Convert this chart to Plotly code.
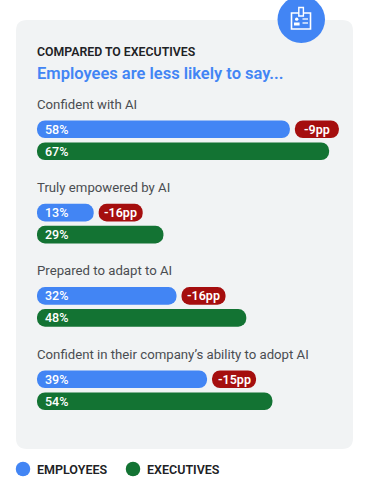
import plotly.graph_objects as go

categories = ["Confident with AI", "Truly empowered by AI", "Prepared to adapt to AI",
              "Confident in their company’s ability to adopt AI"]
employees = [58, 13, 32, 39]
executives = [67, 29, 48, 54]
gaps = ["-9pp", "-16pp", "-16pp", "-15pp"]
legend_names = ["EMPLOYEES", "EXECUTIVES"]
eyebrow = "COMPARED TO EXECUTIVES"
headline = "Employees are less likely to say..."

BLUE, GREEN, RED = "#4285F4", "#137333", "#A50E0E"
PANEL = "#F1F3F4"
W, H = 370, 493
X0, PX = 37, 4.36
FONT = "Roboto, Arial, sans-serif"
FIRST, STEP = 129.3, 83.3
THICK = 17.6
ys_e = [FIRST + i * STEP for i in range(4)]
ys_x = [y + 22 for y in ys_e]
ys_l = [y - 25 for y in ys_e]
pill_w = 44 / PX
pill_gap = 5 / PX

px = lambda x: x / W
py = lambda y: 1 - y / H

fig = go.Figure()

def pill(starts, lengths, ys, color):
    fig.add_bar(x=lengths, y=ys, orientation="h", width=THICK, base=starts,
                marker=dict(color=color, line_width=0), showlegend=False, hoverinfo="skip")

pill([0] * 4, employees, ys_e, BLUE)
pill([0] * 4, executives, ys_x, GREEN)
pill([v + pill_gap for v in employees], [pill_w] * 4, ys_e, RED)
fig.add_scatter(x=[(23 - X0) / PX, (133 - X0) / PX], y=[469, 469], mode="markers",
                marker=dict(size=14.5, color=[BLUE, GREEN], line_width=0), showlegend=False, hoverinfo="skip")

ann = []
def text(x, y, s, size, color, weight=400, anchor="left", xshift=-2.5):
    ann.append(dict(x=x, y=y, xref="x", yref="y", text=s, showarrow=False,
                    xanchor=anchor, yanchor="middle", xshift=xshift, align=anchor,
                    font=dict(family=FONT, size=size, color=color, weight=weight)))

text(0, 51.5, eyebrow, 12.3, "#202124", 600)
text(0, 73.5, headline, 16.5, BLUE, 600)
for i in range(4):
    text(0, ys_l[i], categories[i], 13.2, "#4A4D51")
    text(0, ys_e[i], f"{employees[i]}%", 12.5, "white", 500, xshift=5.5)
    text(0, ys_x[i], f"{executives[i]}%", 12.5, "white", 500, xshift=5.5)
    text(employees[i] + pill_gap + pill_w / 2, ys_e[i], gaps[i], 12.5, "white", 600, "center", 0)
text(0, 469.5, legend_names[0], 12.5, "#202124", 600)
text(110 / PX, 469.5, legend_names[1], 12.5, "#202124", 600)

def rr(x0, y0, x1, y1, r):
    a, b, c, d = px(x0), px(x1), py(y0), py(y1)
    rx, ry = r / W, r / H
    return (f"M{a+rx},{c} L{b-rx},{c} Q{b},{c} {b},{c-ry} L{b},{d+ry} Q{b},{d} {b-rx},{d} "
            f"L{a+rx},{d} Q{a},{d} {a},{d+ry} L{a},{c-ry} Q{a},{c} {a+rx},{c} Z")

shapes = [dict(type="path", path=rr(16, 20, 353, 449, 11), xref="paper", yref="paper",
               fillcolor=PANEL, line_width=0, layer="below"),
          dict(type="circle", x0=px(277.5), x1=px(325), y0=py(-4), y1=py(43), xref="paper", yref="paper",
               fillcolor=BLUE, line_width=0, layer="below")]
def icon(kind, x0, y0, x1, y1, fill=None, lw=1.6, color="white"):
    shapes.append(dict(type=kind, x0=px(x0), x1=px(x1), y0=py(y0), y1=py(y1), xref="paper", yref="paper",
                       fillcolor=fill or "rgba(0,0,0,0)", line=dict(color=color, width=lw)))
icon("rect", 291.5, 13, 310.5, 29)
icon("rect", 298.8, 7.5, 303.4, 16, fill=BLUE, lw=1.4)
icon("circle", 295, 17.5, 298.4, 20.8, fill="white", lw=0)
icon("rect", 294, 22.5, 299.6, 25.5, fill="white", lw=0)
icon("line", 302.5, 19, 308, 19, lw=1.3)
icon("line", 302.5, 23, 308, 23, lw=1.3)

fig.update_layout(width=W, height=H, margin=dict(l=0, r=0, t=0, b=0), paper_bgcolor="white",
                  plot_bgcolor="rgba(0,0,0,0)", barmode="overlay", barcornerradius=9,
                  xaxis=dict(range=[-X0 / PX, (W - X0) / PX], visible=False, fixedrange=True),
                  yaxis=dict(range=[H, 0], visible=False, fixedrange=True),
                  annotations=ann, shapes=shapes, showlegend=False)
fig.write_html("out.html", config=dict(displayModeBar=False),
               post_script="document.body.style.margin='0';")
